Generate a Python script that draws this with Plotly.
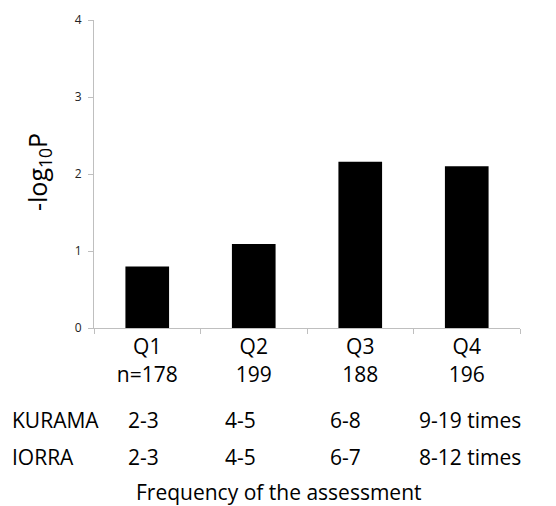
import plotly.graph_objects as go

categories = ["Q1", "Q2", "Q3", "Q4"]
n_labels = ["n=178", "199", "188", "196"]
values = [0.80, 1.09, 2.16, 2.10]
kurama = ["2-3", "4-5", "6-8", "9-19 times"]
iorra = ["2-3", "4-5", "6-7", "8-12 times"]

FONT = "Open Sans"
FS = 21
L, R, T, B = 94, 36, 20, 178
W, H = 556, 506
pw = W - L - R

fig = go.Figure(go.Bar(x=categories, y=values, marker=dict(color="black", line=dict(width=0)),
                       width=0.41))

fig.update_layout(
    width=W, height=H, margin=dict(l=L, r=R, t=T, b=B),
    plot_bgcolor="white", paper_bgcolor="white", showlegend=False,
    font=dict(family=FONT, color="black"),
)
fig.update_xaxes(
    tickmode="array", tickvals=categories,
    ticktext=[f"{c}<br>{n}" for c, n in zip(categories, n_labels)],
    tickfont=dict(size=FS, family=FONT), showline=True, linecolor="#bfbfbf", linewidth=1,
    ticks="outside", tickson="boundaries", ticklen=5, tickcolor="#bfbfbf",
    showgrid=False, range=[-0.5, 3.5],
)
fig.update_yaxes(
    range=[0, 4], dtick=1, tickfont=dict(size=12, family=FONT, color="#222"),
    showline=True, linecolor="#bfbfbf", linewidth=1, ticks="outside", ticklen=5,
    tickcolor="#bfbfbf", showgrid=False, zeroline=False, ticklabelstandoff=4,
)

col_px = [126, 223, 328, 417]
def px2paper(p):
    return (p - L) / pw
def py2paper(p):
    return (H - B - p) / (H - T - B)

rows = [("KURAMA", kurama, 420), ("IORRA", iorra, 457)]
annotations = []
for name, labs, ypx in rows:
    yp = py2paper(ypx)
    annotations.append(dict(text=name, x=px2paper(10), y=yp, xref="paper", yref="paper",
                            xanchor="left", yanchor="middle", showarrow=False,
                            font=dict(size=FS, family=FONT)))
    for lab, cp in zip(labs, col_px):
        annotations.append(dict(text=lab, x=px2paper(cp), y=yp, xref="paper", yref="paper",
                                xanchor="left", yanchor="middle", showarrow=False,
                                font=dict(size=FS, family=FONT)))
annotations.append(dict(text="Frequency of the assessment", x=px2paper(279), y=py2paper(492),
                        xref="paper", yref="paper", xanchor="center", yanchor="middle",
                        showarrow=False, font=dict(size=FS, family=FONT)))
annotations.append(dict(text="-log<sub>10</sub>P", x=px2paper(38), y=py2paper(172),
                        xref="paper", yref="paper", xanchor="center", yanchor="middle",
                        textangle=-90, showarrow=False, font=dict(size=25, family=FONT)))
fig.update_layout(annotations=annotations)

fig.write_html("out.html")
